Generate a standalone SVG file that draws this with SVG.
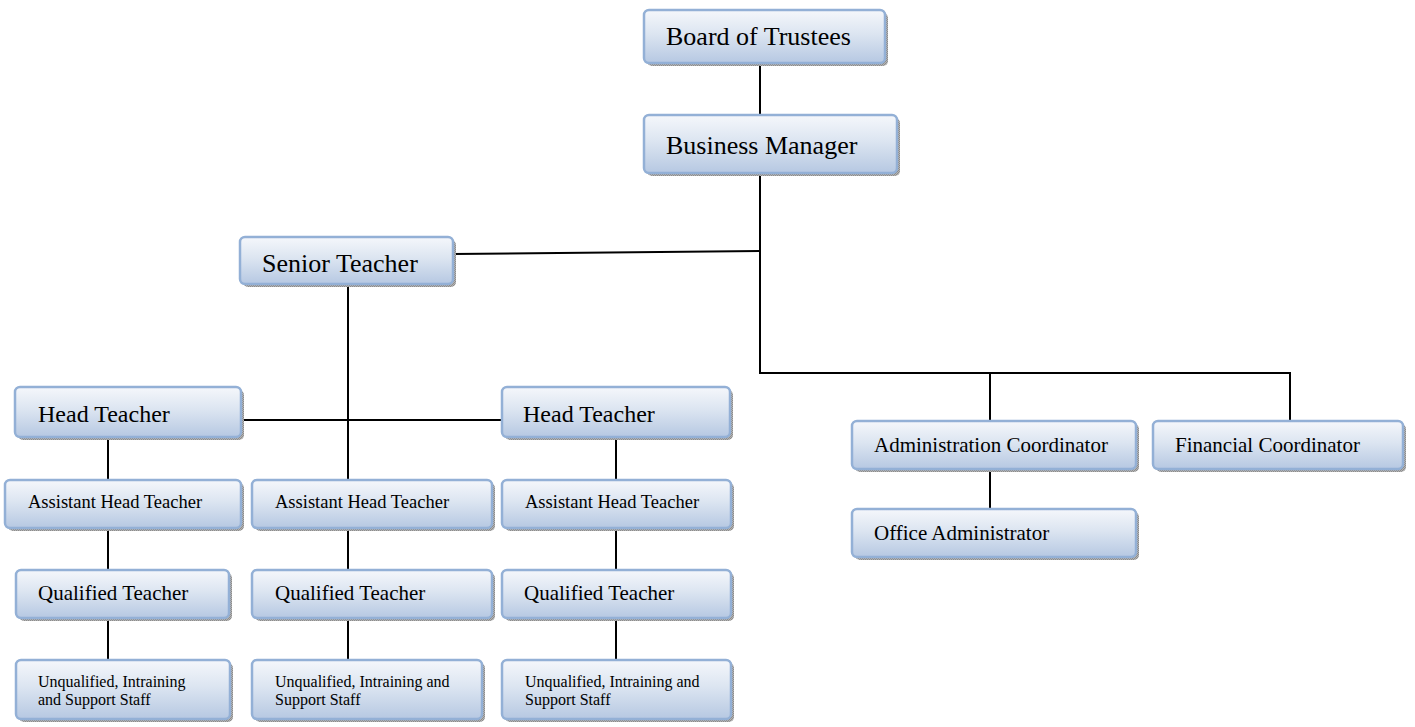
<svg xmlns="http://www.w3.org/2000/svg" width="1415" height="727" viewBox="0 0 1415 727">
  <defs>
    <linearGradient id="boxFill" x1="0" y1="0" x2="0" y2="1">
      <stop offset="0" stop-color="#f5f7fb"/>
      <stop offset="0.45" stop-color="#dce5f1"/>
      <stop offset="1" stop-color="#b6c8e2"/>
    </linearGradient>
    <pattern id="shadowDots" width="2" height="2" patternUnits="userSpaceOnUse">
      <rect width="2" height="2" fill="#b4b4b4"/>
      <rect width="1" height="1" fill="#8c8c8c"/>
      <rect x="1" y="1" width="1" height="1" fill="#8c8c8c"/>
    </pattern>
  </defs>
  <style>
    .shadow { fill: url(#shadowDots); }
    .box { fill: url(#boxFill); stroke: #93b0d6; stroke-width: 2.5; }
    .lbl { font-family: "Liberation Serif", "Times New Roman", serif; fill: #000; }
    .xl { font-size: 26px; }
    .l { font-size: 24px; }
    .m { font-size: 21px; }
    .s { font-size: 18.5px; }
    .xs { font-size: 16px; }
    .wire { stroke: #000; stroke-width: 2; fill: none; }
  </style>
  <rect width="1415" height="727" fill="#ffffff"/>

  <!-- connectors -->
  <g id="connectors" class="wire">
    <path d="M760 63 V115"/>
    <path d="M760 173 V373 H1290 V421"/>
    <path d="M990 373 V421"/>
    <path d="M990 469 V509"/>
    <path d="M453 254 L760 251"/>
    <path d="M348 284 V480"/>
    <path d="M241 420 H502"/>
    <path d="M108 437 V480 M108 528 V570 M108 618 V660"/>
    <path d="M348 528 V570 M348 618 V660"/>
    <path d="M616 437 V480 M616 528 V570 M616 618 V660"/>
  </g>

  <!-- nodes -->
  <g id="board-of-trustees">
    <rect class="shadow" x="647" y="13" width="241" height="53" rx="5"/>
    <rect class="box" x="644" y="10" width="241" height="53" rx="5"/>
    <text class="lbl xl" x="666" y="45">Board of Trustees</text>
  </g>
  <g id="business-manager">
    <rect class="shadow" x="647" y="118" width="253" height="58" rx="5"/>
    <rect class="box" x="644" y="115" width="253" height="58" rx="5"/>
    <text class="lbl xl" x="666" y="154">Business Manager</text>
  </g>
  <g id="senior-teacher">
    <rect class="shadow" x="243" y="240" width="213" height="47" rx="5"/>
    <rect class="box" x="240" y="237" width="213" height="47" rx="5"/>
    <text class="lbl xl" x="262" y="272">Senior Teacher</text>
  </g>

  <g id="head-teacher-1">
    <rect class="shadow" x="18" y="390" width="226" height="50" rx="5"/>
    <rect class="box" x="15" y="387" width="226" height="50" rx="5"/>
    <text class="lbl l" x="38" y="422">Head Teacher</text>
  </g>
  <g id="head-teacher-2">
    <rect class="shadow" x="505" y="390" width="228" height="50" rx="5"/>
    <rect class="box" x="502" y="387" width="228" height="50" rx="5"/>
    <text class="lbl l" x="523" y="422">Head Teacher</text>
  </g>

  <g id="assistant-head-teacher-1">
    <rect class="shadow" x="8" y="483" width="236" height="48" rx="5"/>
    <rect class="box" x="5" y="480" width="236" height="48" rx="5"/>
    <text class="lbl s" x="28" y="508">Assistant Head Teacher</text>
  </g>
  <g id="assistant-head-teacher-2">
    <rect class="shadow" x="255" y="483" width="240" height="48" rx="5"/>
    <rect class="box" x="252" y="480" width="240" height="48" rx="5"/>
    <text class="lbl s" x="275" y="508">Assistant Head Teacher</text>
  </g>
  <g id="assistant-head-teacher-3">
    <rect class="shadow" x="505" y="483" width="229" height="48" rx="5"/>
    <rect class="box" x="502" y="480" width="229" height="48" rx="5"/>
    <text class="lbl s" x="525" y="508">Assistant Head Teacher</text>
  </g>

  <g id="qualified-teacher-1">
    <rect class="shadow" x="19" y="573" width="213" height="48" rx="5"/>
    <rect class="box" x="16" y="570" width="213" height="48" rx="5"/>
    <text class="lbl m" x="38" y="600">Qualified Teacher</text>
  </g>
  <g id="qualified-teacher-2">
    <rect class="shadow" x="255" y="573" width="240" height="48" rx="5"/>
    <rect class="box" x="252" y="570" width="240" height="48" rx="5"/>
    <text class="lbl m" x="275" y="600">Qualified Teacher</text>
  </g>
  <g id="qualified-teacher-3">
    <rect class="shadow" x="505" y="573" width="229" height="48" rx="5"/>
    <rect class="box" x="502" y="570" width="229" height="48" rx="5"/>
    <text class="lbl m" x="524" y="600">Qualified Teacher</text>
  </g>

  <g id="support-staff-1">
    <rect class="shadow" x="19" y="663" width="214" height="59" rx="5"/>
    <rect class="box" x="16" y="660" width="214" height="59" rx="5"/>
    <text class="lbl xs" x="38" y="687">Unqualified, Intraining</text>
    <text class="lbl xs" x="38" y="705">and Support Staff</text>
  </g>
  <g id="support-staff-2">
    <rect class="shadow" x="255" y="663" width="230" height="59" rx="5"/>
    <rect class="box" x="252" y="660" width="230" height="59" rx="5"/>
    <text class="lbl xs" x="275" y="687">Unqualified, Intraining and</text>
    <text class="lbl xs" x="275" y="705">Support Staff</text>
  </g>
  <g id="support-staff-3">
    <rect class="shadow" x="505" y="663" width="229" height="59" rx="5"/>
    <rect class="box" x="502" y="660" width="229" height="59" rx="5"/>
    <text class="lbl xs" x="525" y="687">Unqualified, Intraining and</text>
    <text class="lbl xs" x="525" y="705">Support Staff</text>
  </g>

  <g id="administration-coordinator">
    <rect class="shadow" x="855" y="424" width="284" height="48" rx="5"/>
    <rect class="box" x="852" y="421" width="284" height="48" rx="5"/>
    <text class="lbl m" x="874" y="452">Administration Coordinator</text>
  </g>
  <g id="financial-coordinator">
    <rect class="shadow" x="1156" y="424" width="250" height="48" rx="5"/>
    <rect class="box" x="1153" y="421" width="250" height="48" rx="5"/>
    <text class="lbl m" x="1175" y="452">Financial Coordinator</text>
  </g>
  <g id="office-administrator">
    <rect class="shadow" x="855" y="512" width="284" height="48" rx="5"/>
    <rect class="box" x="852" y="509" width="284" height="48" rx="5"/>
    <text class="lbl m" x="874" y="540">Office Administrator</text>
  </g>
</svg>
